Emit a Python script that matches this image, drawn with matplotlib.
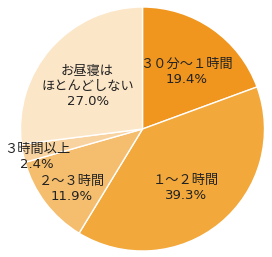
import numpy as np
import matplotlib
matplotlib.use("Agg")
import matplotlib.pyplot as plt

plt.rcParams['font.family'] = ['DejaVu Sans', 'Noto Sans CJK JP']

# data
labels = ['３０分～１時間', '１～２時間', '２～３時間', '３時間以上', 'お昼寝は\nほとんどしない']
values = [19.4, 39.3, 11.9, 2.4, 27.0]
colors = ['#F0961E', '#F2A83A', '#F5BE6E', '#F8D3A0', '#FCE6C8']
label_r = [0.63, 0.56, 0.73, 0.88, 0.60]

fig = plt.figure(figsize=(2.72, 2.57), dpi=100)
ax = fig.add_axes([0, 0, 1, 1])

wedges, _ = ax.pie(values, colors=colors, startangle=90, counterclock=False,
                   wedgeprops=dict(edgecolor='white', linewidth=1.0))

# put each label at its wedge's middle angle (nudged down a bit)
for w, lab, v, r in zip(wedges, labels, values, label_r):
    ang = np.deg2rad((w.theta1 + w.theta2) / 2)
    x, y = r * np.cos(ang), r * np.sin(ang) - 0.05
    ax.text(x, y, "{}\n{:.1f}%".format(lab, v), ha='center', va='center',
            fontsize=9.5, color='#222222', linespacing=1.2)

R = 122.0
ax.set_xlim(-142.5 / R, (272 - 142.5) / R)
ax.set_ylim(-(257 - 129) / R, 129 / R)
ax.set_aspect('equal')
ax.axis('off')

fig.savefig('out.png', dpi=100, facecolor='white')
